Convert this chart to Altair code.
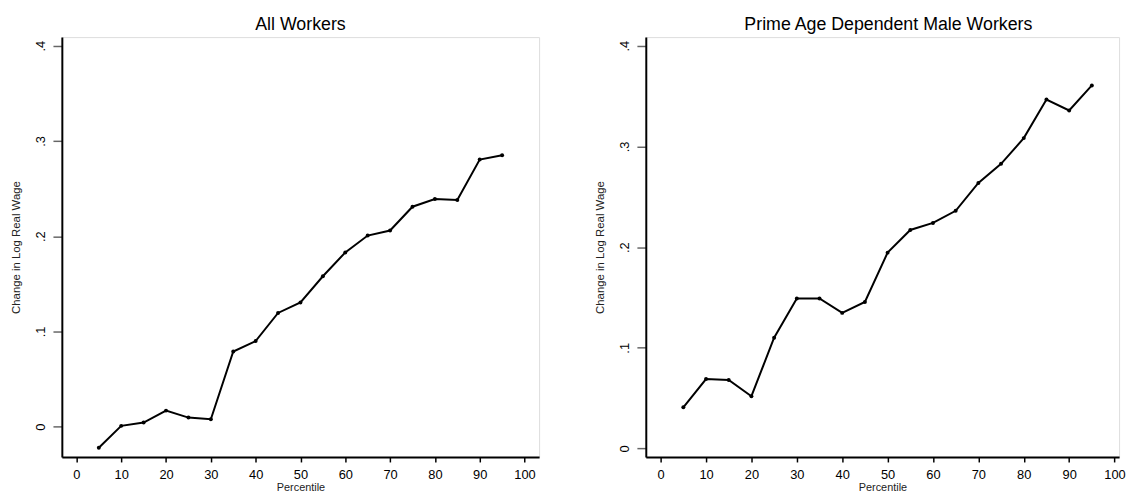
import altair as alt
import pandas as pd

percentile = [5, 10, 15, 20, 25, 30, 35, 40, 45, 50, 55, 60, 65, 70, 75, 80, 85, 90, 95]
all_workers = [-0.022, 0.001, 0.0045, 0.017, 0.0097, 0.008, 0.079, 0.090, 0.1195, 0.1305,
               0.158, 0.183, 0.2007, 0.206, 0.231, 0.239, 0.238, 0.2805, 0.285]
prime_age_male = [0.041, 0.069, 0.068, 0.052, 0.110, 0.149, 0.149, 0.1347, 0.1455, 0.1945,
                  0.217, 0.224, 0.236, 0.2637, 0.2827, 0.3082, 0.3465, 0.3357, 0.3605]

x_ticks = list(range(0, 101, 10))
y_ticks = [0, 0.1, 0.2, 0.3, 0.4]
titles = ["All Workers", "Prime Age Dependent Male Workers"]

FONT = "Liberation Sans"
H = 425


def panel(values, title, w, xdom, ydom, title_dx=0):
    df = pd.DataFrame({"p": percentile, "v": values})
    x = alt.X("p:Q", scale=alt.Scale(domain=xdom, nice=False, zero=False),
              axis=alt.Axis(values=x_ticks, title="Percentile", tickSize=5, tickColor="black",
                            tickWidth=1.5, labelPadding=7, labelFontSize=13, titleFontSize=11,
                            titlePadding=-0.5, titleFontWeight="normal", grid=False,
                            domainColor="black", domainWidth=2, labelColor="black",
                            titleColor="#222222", labelFont=FONT, titleFont=FONT))
    y = alt.Y("v:Q", scale=alt.Scale(domain=ydom, nice=False, zero=False),
              axis=alt.Axis(values=y_ticks,
                            labelExpr="datum.value == 0 ? '0' : slice(format(datum.value, '.1f'), 1)",
                            title="Change in Log Real Wage", titleX=-46.3, titleY=H / 2,
                            titleAngle=270, titleAlign="center", titleBaseline="middle",
                            tickSize=9, tickColor="#666666", tickWidth=1.5, labelAngle=270,
                            labelAlign="center", labelBaseline="alphabetic", labelPadding=9,
                            labelFontSize=13, titleFontSize=11.5, titleFontWeight="normal",
                            grid=False, domainColor="black", domainWidth=2, labelColor="black",
                            titleColor="#222222", labelFont=FONT, titleFont=FONT,
                            minExtent=48, maxExtent=48))
    line = alt.Chart(df).mark_line(color="black", strokeWidth=2).encode(x=x, y=y)
    pts = alt.Chart(df).mark_point(filled=True, color="black", size=16, opacity=1).encode(x=x, y=y)
    return alt.layer(line, pts).properties(
        width=w, height=H,
        title=alt.Title(title, fontSize=18, font=FONT, fontWeight="normal", color="black",
                        baseline="top", offset=3.5, anchor="middle", dx=title_dx))


left = panel(all_workers, titles[0], 483, [-3.25, 103.25], [-0.0317, 0.409])
right = panel(prime_age_male, titles[1], 479, [-3.27, 101.0], [-0.0084, 0.4085], title_dx=6)

chart = alt.hconcat(left, right, spacing=54).properties(
    padding={"left": 1.5, "top": 4.5, "right": 0, "bottom": 0}
).configure_view(stroke="#808080", strokeWidth=1.5).configure(background="white")

chart.save("out.html", embed_options={"renderer": "svg", "actions": False})
